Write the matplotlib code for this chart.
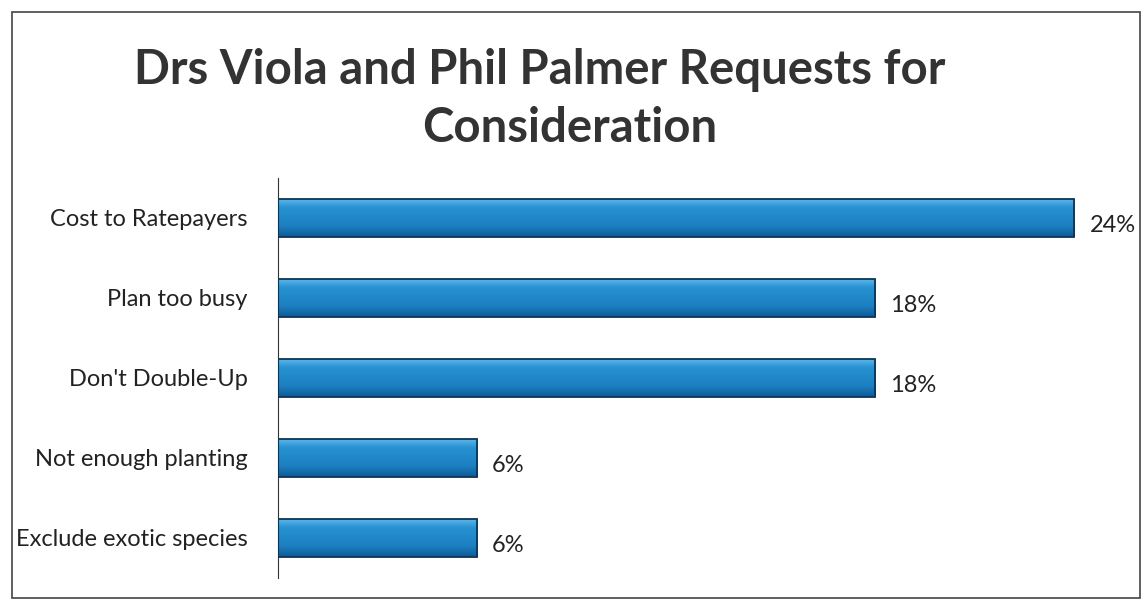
import numpy as np
import matplotlib.pyplot as plt
from matplotlib.patches import Rectangle
from matplotlib.colors import LinearSegmentedColormap

plt.rcParams['font.family'] = ['Lato', 'DejaVu Sans']

categories = ['Cost to Ratepayers', 'Plan too busy', "Don't Double-Up",
              'Not enough planting', 'Exclude exotic species']
values = [24, 18, 18, 6, 6]
labels = ['24%', '18%', '18%', '6%', '6%']

fig = plt.figure(figsize=(11.46, 6.08), dpi=100)
ax = fig.add_axes([278 / 1146, 1 - 578 / 608, (1146 - 278 - 40) / 1146, 400 / 608])

y = list(range(len(categories)))
bars = ax.barh(y, values, height=0.47, color='#1f84c6', edgecolor='#0b3556', linewidth=1.3)

# shaded fill, light at the top edge and darker at the bottom
grad = LinearSegmentedColormap.from_list(
    'bar', [(0, '#5cb6e8'), (0.22, '#2792d2'), (0.7, '#1c80c2'), (1, '#0e5c98')])
col = np.linspace(0, 1, 64).reshape(-1, 1)
for b in bars:
    x0, y0 = b.get_x(), b.get_y()
    im = ax.imshow(col, cmap=grad, aspect='auto', interpolation='bilinear',
                   extent=[x0, x0 + b.get_width(), y0 + b.get_height(), y0], zorder=2)
    im.set_clip_path(b)
    b.set_zorder(3)
    b.set_facecolor('none')

for yi, v, lab in zip(y, values, labels):
    ax.text(v + 0.45, yi + 0.1, lab, va='center', ha='left', fontsize=17, color='#222222')

ax.set_ylim(4.5, -0.5)
ax.set_xlim(0, 24.95)
ax.set_yticks(y)
ax.set_yticklabels(categories, fontsize=17, color='#222222')
ax.tick_params(axis='y', length=0, pad=22)
ax.set_xticks([])
for s in ['top', 'right', 'bottom']:
    ax.spines[s].set_visible(False)
ax.spines['left'].set_color('#333333')

fig.text(540 / 1146, 1 - 70 / 608, 'Drs Viola and Phil Palmer Requests for',
         ha='center', va='center', fontsize=34, fontweight='bold', color='#333333')
fig.text(570 / 1146, 1 - 128 / 608, 'Consideration',
         ha='center', va='center', fontsize=34, fontweight='bold', color='#333333')

fig.patches.append(Rectangle((12 / 1146, 10 / 608), (1140 - 12) / 1146, (596 - 10) / 608,
                             transform=fig.transFigure, fill=False,
                             edgecolor='#444444', linewidth=1.2))

fig.savefig('out.png', dpi=100)
